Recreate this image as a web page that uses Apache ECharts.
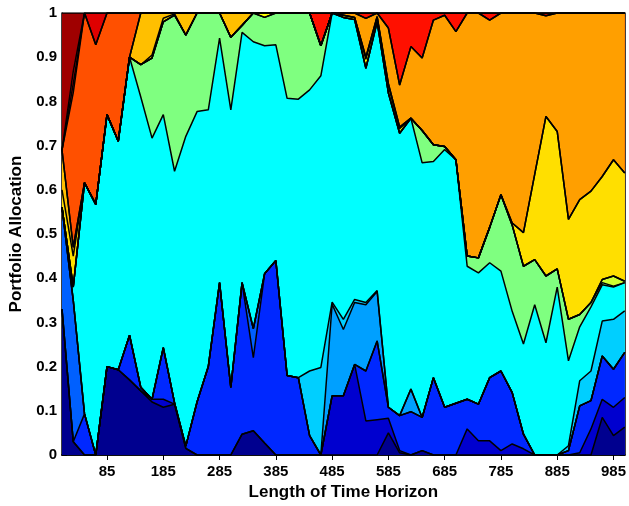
<!DOCTYPE html>
<html>
<head>
<meta charset="utf-8">
<script src="https://cdn.jsdelivr.net/npm/echarts@6/dist/echarts.min.js"></script>
<style>
  html, body { margin: 0; padding: 0; background: #ffffff; }
  #chart { width: 629px; height: 506px; }
</style>
</head>
<body>
<div id="chart"></div>
<script>
// Time horizon lengths at which the portfolio was solved
const horizons = [5, 25, 45, 65, 85, 105, 125, 145, 165, 185, 205, 225, 245, 265, 285, 305, 325,
  345, 365, 385, 405, 425, 445, 465, 485, 505, 525, 545, 565, 585, 605, 625, 645, 665, 685,
  705, 725, 745, 765, 785, 805, 825, 845, 865, 885, 905, 925, 945, 965, 985, 1005];

const xTickValues = [85, 185, 285, 385, 485, 585, 685, 785, 885, 985];

// Cumulative allocation: share held in assets 1..k (k = 1 is the bottom band)
const cum01 = [.33,.03,0,0,.2,.193,.17,.145,.12,.108,.115, .015,0,0,0,0,.047,.055,.027,0,0,
  0,0,0,0,0,0,0,0,.05,.005, 0,.01,0,0,0,0,0,0,0,0, 0,0,0,0,0,0,0,.085,.044,.063];
const cum02 = [.33,.03,0,0,.2,.193,.17,.145,.126,.126,.115, .015,0,0,0,0,.047,.055,.027,0,0,
  0,0,0,.134,.134,.205,.077,.08,.083,.01, 0,.01,0,0,0,.059,.032,.032,.01,.025, .014,0,0,0,0,.005,.059,.126,.108,.13];
const cum03 = [.33,.03,.093,0,.2,.193,.271,.153,.126,.243,.118, .02,.12,.2,.39,.153,.39,.22,.41,.44,.18,
  .175,.044,0,.134,.134,.205,.19,.258,.108,.089, .098,.085,.175,.108,.117,.126,.115,.175,.19,.141,
  .047,0,0,0,.01,.111,.123,.224,.194,.232];
const cum04 = [.56,.35,.093,0,.2,.193,.271,.153,.126,.243,.118, .02,.12,.2,.39,.153,.39,.286,.41,.44,.18,
  .175,.044,0,.134,.134,.205,.19,.258,.108,.089, .098,.085,.175,.108,.117,.126,.115,.175,.19,.141,
  .047,0,0,0,.01,.111,.123,.224,.194,.232];
const cum05 = [.56,.35,.093,0,.2,.193,.271,.153,.126,.243,.118, .02,.12,.2,.39,.153,.39,.286,.41,.44,.18,
  .175,.044,0,.341,.284,.345,.34,.37,.108,.089, .149,.085,.175,.108,.117,.126,.115,.175,.19,.141,
  .047,0,0,0,.01,.111,.123,.224,.194,.232];
const cum06 = [.56,.35,.093,0,.2,.193,.271,.153,.126,.243,.118, .02,.12,.2,.39,.153,.39,.286,.41,.44,.18,
  .175,.19,.198,.346,.307,.352,.345,.372,.108,.089, .149,.085,.175,.108,.117,.126,.115,.175,.19,.141,
  .047,0,0,0,.021,.168,.19,.303,.307,.326];
const cum07 = [.56,.38,.616,.567,.77,.71,.9,.81,.717,.77,.642, .721,.777,.781,.943,.781,.956,.935,.926,.928,.807,
  .805,.826,.858,1,.99,.985,.875,.98,.819,.728, .762,.661,.664,.691,.668,.427,.412,.435,.416,.325,
  .251,.34,.254,.38,.213,.29,.335,.385,.38,.39];
const cum08 = [.56,.38,.616,.567,.77,.71,.9,.883,.898,.98,.995, .95,1,1,1,.945,.972,1,.99,1,1,
  1,1,.926,1,.99,.985,.875,.98,.819,.728, .762,.734,.702,.698,.668,.45,.446,.515,.589,.52,
  .427,.442,.405,.421,.307,.318,.345,.39,.382,.39];
const cum09 = [.56,.38,.616,.567,.77,.71,.9,.883,.898,.98,.995, .95,1,1,1,.945,.972,1,.99,1,1,
  1,1,.926,1,.99,.985,.875,.98,.819,.728, .762,.734,.702,.698,.668,.45,.446,.515,.589,.52,
  .427,.442,.405,.421,.307,.318,.345,.397,.405,.393];
const cum10 = [.56,.38,.616,.567,.77,.71,.9,.883,.898,.98,.995, .95,1,1,1,.945,.972,1,1,1,1,
  1,1,.926,1,.995,.99,.895,.99,.835,.738, .762,.734,.702,.698,.668,.45,.446,.515,.589,.52,
  .427,.442,.405,.421,.307,.318,.345,.397,.405,.393];
const cum11 = [.6,.45,.616,.567,.77,.71,.9,.883,.905,.988,.998, .95,1,1,1,.945,.972,1,1,1,1,
  1,1,.926,1,.995,.99,.9,.992,.84,.742, .762,.734,.702,.698,.668,.45,.446,.515,.589,.525,
  .503,.635,.766,.732,.533,.578,.597,.63,.668,.638];
const cum12 = [.69,.47,.616,.567,.77,.71,.9,1,1,1,1, 1,1,1,1,1,1,1,1,1,1,
  1,1,.926,1,.995,.99,.9,.992,.84,.742, .762,.734,.702,.698,.668,.45,.446,.515,.589,.525,
  .503,.635,.766,.732,.533,.578,.597,.63,.668,.638];
const cum13 = [.69,.47,.616,.567,.77,.71,.9,1,1,1,1, 1,1,1,1,1,1,1,1,1,1,
  1,1,.926,1,1,1,.988,1,.966,.837, .924,.898,.984,.995,.958,1,1,.984,1,1,
  1,1,.994,1,1,1,1,1,1,1];
const cum14 = [.69,.82,1,.928,1,1,1,1,1,1,1, 1,1,1,1,1,1,1,1,1,1,
  1,1,.926,1,1,1,.988,1,.966,.837, .924,.898,.984,.995,.958,1,1,.984,1,1,
  1,1,.994,1,1,1,1,1,1,1];
const cum15 = [.69,.84,1,.928,1,1,1,1,1,1,1, 1,1,1,1,1,1,1,1,1,1,
  1,1,1,1,1,1,1,1,1,1, 1,1,1,1,1,1,1,1,1,1, 1,1,1,1,1,1,1,1,1,1];
const cum16 = [.69,.868,1,1,1,1,1,1,1,1,1, 1,1,1,1,1,1,1,1,1,1,
  1,1,1,1,1,1,1,1,1,1, 1,1,1,1,1,1,1,1,1,1, 1,1,1,1,1,1,1,1,1,1];
const cum17 = [1,1,1,1,1,1,1,1,1,1,1, 1,1,1,1,1,1,1,1,1,1,
  1,1,1,1,1,1,1,1,1,1, 1,1,1,1,1,1,1,1,1,1, 1,1,1,1,1,1,1,1,1,1];

// Bands from the top of the stack down; each one is filled from its
// cumulative line to zero, so the later (lower) bands cover the earlier ones.
const bands = [
  { data: cum17, color: '#9f0000' },
  { data: cum16, color: '#df0000' },
  { data: cum15, color: '#ff1000' },
  { data: cum14, color: '#ff5000' },
  { data: cum13, color: '#ff9f00' },
  { data: cum12, color: '#ffbf00' },
  { data: cum11, color: '#ffdf00' },
  { data: cum10, color: '#ffff00' },
  { data: cum09, color: '#cfff30' },
  { data: cum08, color: '#7fff80' },
  { data: cum07, color: '#00ffff' },
  { data: cum06, color: '#00cfff' },
  { data: cum05, color: '#00a0ff' },
  { data: cum04, color: '#0060ff' },
  { data: cum03, color: '#0028ff' },
  { data: cum02, color: '#0000cf' },
  { data: cum01, color: '#00008f' }
];

const font = 'Liberation Sans, Arial, Helvetica, sans-serif';

const chart = echarts.init(document.getElementById('chart'), null, { renderer: 'canvas' });

chart.setOption({
  animation: false,
  backgroundColor: '#ffffff',
  grid: { left: 62, right: 3, top: 13, bottom: 50, containLabel: false },
  xAxis: [
    {
      type: 'value', min: 5, max: 1005, position: 'bottom',
      name: 'Length of Time Horizon', nameLocation: 'middle', nameGap: 29,
      nameTextStyle: { fontFamily: font, fontWeight: 'bold', fontSize: 17, color: '#000' },
      axisLine: { show: true, lineStyle: { color: '#000', width: 1.5 } },
      axisTick: { show: true, inside: true, length: 5, customValues: xTickValues, lineStyle: { color: '#000' } },
      axisLabel: { customValues: xTickValues, fontFamily: font, fontWeight: 'bold', fontSize: 15, color: '#000', margin: 9 },
      splitLine: { show: false }
    },
    {
      type: 'value', min: 5, max: 1005, position: 'top',
      axisLine: { show: true, lineStyle: { color: '#000', width: 1.5 } },
      axisTick: { show: true, inside: true, length: 5, customValues: xTickValues, lineStyle: { color: '#000' } },
      axisLabel: { show: false },
      splitLine: { show: false }
    }
  ],
  yAxis: [
    {
      type: 'value', min: 0, max: 1, interval: 0.1, position: 'left',
      name: 'Portfolio Allocation', nameLocation: 'middle', nameGap: 36, nameRotate: 90,
      nameTextStyle: { fontFamily: font, fontWeight: 'bold', fontSize: 17, color: '#000' },
      axisLine: { show: true, lineStyle: { color: '#000', width: 1.5 } },
      axisTick: { show: true, inside: true, length: 5, lineStyle: { color: '#000' } },
      axisLabel: { fontFamily: font, fontWeight: 'bold', fontSize: 15, color: '#000', margin: 5 },
      splitLine: { show: false }
    },
    {
      type: 'value', min: 0, max: 1, interval: 0.1, position: 'right',
      axisLine: { show: true, lineStyle: { color: '#000', width: 1.5 } },
      axisTick: { show: true, inside: true, length: 5, lineStyle: { color: '#000' } },
      axisLabel: { show: false },
      splitLine: { show: false }
    }
  ],
  series: bands.map((b, k) => ({
    type: 'line',
    name: 'band' + (bands.length - k),
    xAxisIndex: 0,
    yAxisIndex: 0,
    data: horizons.map((x, i) => [x, b.data[i]]),
    symbol: 'none',
    showSymbol: false,
    silent: true,
    clip: true,
    lineStyle: { color: '#000000', width: 1.5 },
    areaStyle: { color: b.color, opacity: 1 }
  }))
});
</script>
</body>
</html>
